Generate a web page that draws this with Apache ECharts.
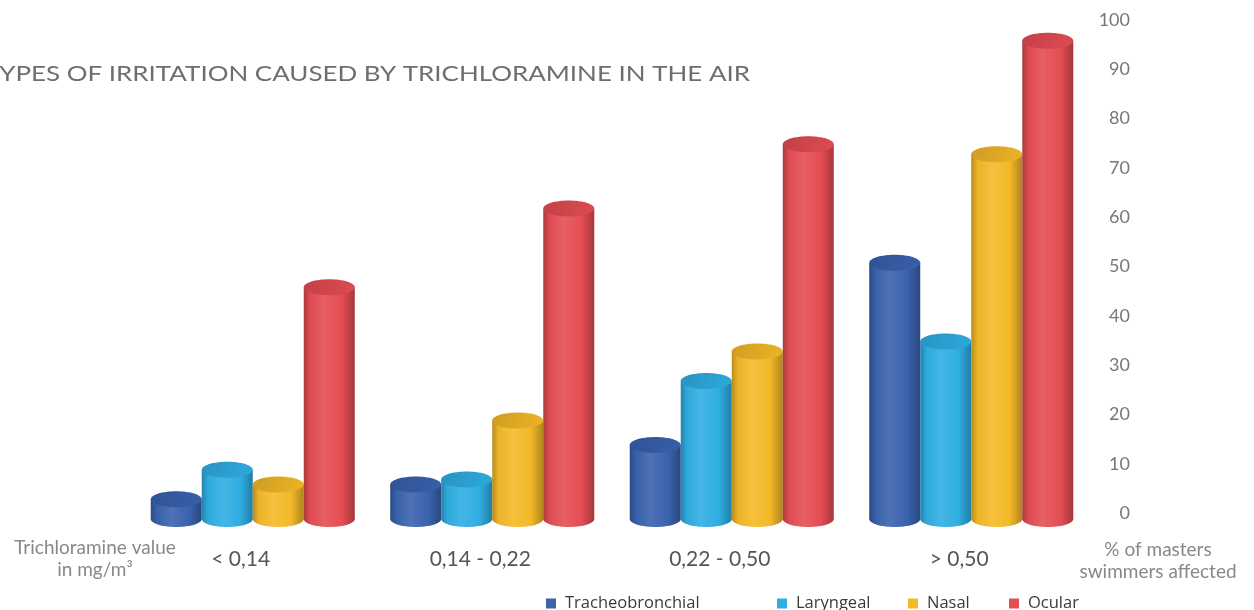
<!DOCTYPE html>
<html>
<head>
<meta charset="utf-8">
<script src="https://cdn.jsdelivr.net/npm/echarts@6/dist/echarts.min.js"></script>
<style>html,body{margin:0;padding:0;background:#fff;}#chart{width:1254px;height:610px;}</style>
</head>
<body>
<div id="chart"></div>
<script>
var categories = ['< 0,14', '0,14 - 0,22', '0,22 - 0,50', '> 0,50'];
var seriesNames = ['Tracheobronchial', 'Laryngeal', 'Nasal', 'Ocular'];
var tracheobronchial = [4, 7, 15, 52];
var laryngeal = [10, 8, 28, 36];
var nasal = [7, 20, 34, 74];
var ocular = [47, 63, 76, 97];
var seriesColors = ['#3a62ae', '#2faee2', '#f4b928', '#e44d53'];
var titleText = 'TYPES OF IRRITATION CAUSED BY TRICHLORAMINE IN THE AIR';

var seriesValues = [tracheobronchial, laryngeal, nasal, ocular];

function adjust(hex, f) {
  var r = parseInt(hex.slice(1, 3), 16), g = parseInt(hex.slice(3, 5), 16), b = parseInt(hex.slice(5, 7), 16);
  function c(v) {
    v = f < 0 ? v * (1 + f) : v + (255 - v) * f;
    v = Math.max(0, Math.min(255, Math.round(v)));
    return ('0' + v.toString(16)).slice(-2);
  }
  return '#' + c(r) + c(g) + c(b);
}

function makeRender(k) {
  var base = seriesColors[k];
  return function (params, api) {
    var cat = api.value(0), val = api.value(1);
    var top = api.coord([cat, val]);
    var bot = api.coord([cat, 0]);
    var band = api.size([1, 0])[0];
    var w = band * 0.213;
    var cx = top[0] + (k - 1.5) * w;
    var dy = 6;
    var ry = 8;
    var topY = top[1] + dy, botY = bot[1] + dy;
    var bodyFill = new echarts.graphic.LinearGradient(0, 0, 1, 0, [
      { offset: 0, color: adjust(base, -0.25) },
      { offset: 0.12, color: adjust(base, -0.03) },
      { offset: 0.4, color: adjust(base, 0.1) },
      { offset: 0.75, color: base },
      { offset: 1, color: adjust(base, -0.28) }
    ]);
    var topFill = new echarts.graphic.LinearGradient(0, 0, 1, 1, [
      { offset: 0, color: adjust(base, -0.15) },
      { offset: 1, color: adjust(base, -0.03) }
    ]);
    return {
      type: 'group',
      children: [
        { type: 'ellipse', shape: { cx: cx, cy: botY, rx: w / 2, ry: ry }, style: { fill: bodyFill } },
        { type: 'rect', shape: { x: cx - w / 2, y: topY, width: w, height: Math.max(0, botY - topY) }, style: { fill: bodyFill } },
        { type: 'ellipse', shape: { cx: cx, cy: topY, rx: w / 2, ry: ry }, style: { fill: topFill } }
      ]
    };
  };
}

var series = seriesNames.map(function (name, k) {
  return {
    name: name,
    type: 'custom',
    renderItem: makeRender(k),
    itemStyle: { color: seriesColors[k] },
    encode: { x: 0, y: 1 },
    data: seriesValues[k].map(function (v, i) { return [i, v]; })
  };
});

var legendLefts = [541, 772, 903, 1004];
var legends = seriesNames.map(function (name, k) {
  return {
    data: [name],
    left: legendLefts[k],
    top: 590,
    icon: 'rect',
    itemWidth: 10,
    itemHeight: 10,
    selectedMode: false,
    textStyle: { fontFamily: 'Open Sans', fontSize: 16.5, color: '#3a3a3a', padding: [0, 0, 0, 4] }
  };
});

var chart = echarts.init(document.getElementById('chart'));
chart.setOption({
  animation: false,
  backgroundColor: '#ffffff',
  grid: { left: 133, right: 163, top: 20, bottom: 97 },
  legend: legends,
  xAxis: {
    type: 'category',
    data: categories,
    axisLine: { show: false },
    axisTick: { show: false },
    axisLabel: { margin: 36, fontFamily: 'Lato', fontSize: 21, color: '#555', padding: [0, 24, 0, 0] }
  },
  yAxis: {
    type: 'value',
    position: 'right',
    min: 0, max: 100, interval: 10,
    axisLine: { show: false },
    axisTick: { show: false },
    splitLine: { show: false },
    axisLabel: { margin: 39, align: 'right', fontFamily: 'Lato', fontSize: 18, color: '#777' }
  },
  graphic: [
    { type: 'text', x: -16, y: 74, scaleX: 1.235, style: { text: titleText, fontFamily: 'Lato', fontSize: 21, fill: '#6e6e6e', verticalAlign: 'middle' } },
    { type: 'text', x: 95, y: 559, style: { text: 'Trichloramine value\nin mg/m³', fontFamily: 'Lato', fontSize: 19, lineHeight: 22, fill: '#888', align: 'center', verticalAlign: 'middle' } },
    { type: 'text', x: 1158, y: 561, style: { text: '% of masters\nswimmers affected', fontFamily: 'Lato', fontSize: 19, lineHeight: 22, fill: '#888', align: 'center', verticalAlign: 'middle' } }
  ],
  series: series
});
</script>
</body>
</html>
